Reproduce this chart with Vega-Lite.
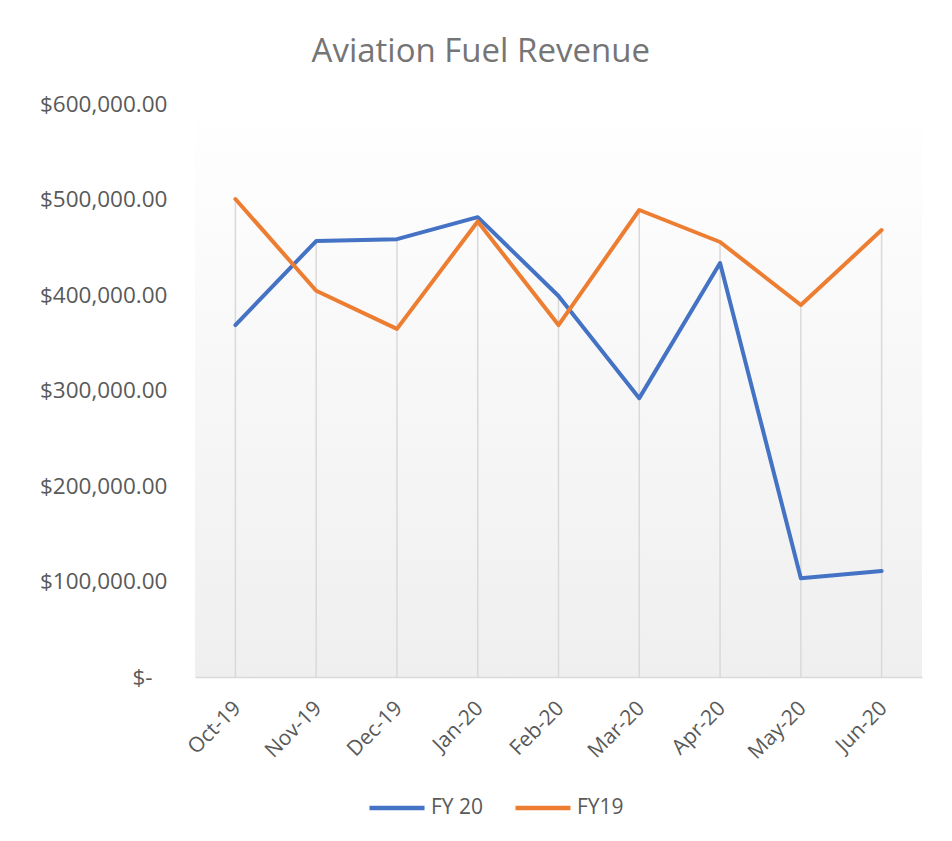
{
  "$schema": "https://vega.github.io/schema/vega-lite/v6.json",
  "width": 727,
  "height": 573,
  "autosize": "none",
  "padding": {"left": 195, "top": 104, "right": 30, "bottom": 164},
  "background": "white",
  "title": {
    "text": "Aviation Fuel Revenue",
    "font": "Open Sans",
    "fontSize": 33,
    "fontWeight": "normal",
    "color": "#757575",
    "anchor": "middle",
    "frame": "bounds",
    "offset": 24
  },
  "data": {
    "values": [
      {"month": "Oct-19", "series": "FY 20", "value": 368500},
      {"month": "Nov-19", "series": "FY 20", "value": 456500},
      {"month": "Dec-19", "series": "FY 20", "value": 458500},
      {"month": "Jan-20", "series": "FY 20", "value": 481500},
      {"month": "Feb-20", "series": "FY 20", "value": 399000},
      {"month": "Mar-20", "series": "FY 20", "value": 292000},
      {"month": "Apr-20", "series": "FY 20", "value": 433500},
      {"month": "May-20", "series": "FY 20", "value": 103500},
      {"month": "Jun-20", "series": "FY 20", "value": 111000},
      {"month": "Oct-19", "series": "FY19", "value": 500500},
      {"month": "Nov-19", "series": "FY19", "value": 404500},
      {"month": "Dec-19", "series": "FY19", "value": 364500},
      {"month": "Jan-20", "series": "FY19", "value": 477000},
      {"month": "Feb-20", "series": "FY19", "value": 368500},
      {"month": "Mar-20", "series": "FY19", "value": 489000},
      {"month": "Apr-20", "series": "FY19", "value": 455500},
      {"month": "May-20", "series": "FY19", "value": 389500},
      {"month": "Jun-20", "series": "FY19", "value": 468000}
    ]
  },
  "layer": [
    {
      "transform": [
        {"aggregate": [{"op": "max", "field": "value", "as": "maxv"}], "groupby": ["month"]}
      ],
      "mark": {"type": "rule", "color": "#d9d9d9", "strokeWidth": 1.5},
      "encoding": {
        "x": {"field": "month", "type": "ordinal", "sort": ["Oct-19","Nov-19","Dec-19","Jan-20","Feb-20","Mar-20","Apr-20","May-20","Jun-20"]},
        "y": {"field": "maxv", "type": "quantitative"},
        "y2": {"datum": 0}
      }
    },
    {
      "mark": {"type": "line", "strokeWidth": 4, "strokeCap": "round", "strokeJoin": "round"},
      "encoding": {
        "x": {
          "field": "month",
          "type": "ordinal",
          "sort": ["Oct-19","Nov-19","Dec-19","Jan-20","Feb-20","Mar-20","Apr-20","May-20","Jun-20"],
          "scale": {"type": "point", "padding": 0.5},
          "axis": {
            "title": null,
            "labelAngle": -45,
            "labelAlign": "right",
            "labelBaseline": "top",
            "labelFont": "Open Sans",
            "labelFontSize": 21,
            "labelColor": "#595959",
            "labelPadding": 20,
            "labelOffset": -6,
            "ticks": false,
            "grid": false,
            "domainColor": "#d9d9d9",
            "domainWidth": 1.5
          }
        },
        "y": {
          "field": "value",
          "type": "quantitative",
          "scale": {"domain": [0, 600000], "nice": false, "zero": true},
          "axis": {
            "title": null,
            "values": [0, 100000, 200000, 300000, 400000, 500000, 600000],
            "labelExpr": "datum.value === 0 ? '$-' : format(datum.value, '$,.2f')",
            "labelFont": "Open Sans",
            "labelFontSize": 22.5,
            "labelColor": "#595959",
            "labelPadding": {"condition": {"test": "datum.value === 0", "value": 43}, "value": 28},
            "domain": false,
            "ticks": false,
            "grid": false
          }
        },
        "color": {
          "field": "series",
          "type": "nominal",
          "scale": {"domain": ["FY 20", "FY19"], "range": ["#4472C4", "#ED7D31"]},
          "legend": {
            "title": null,
            "orient": "none",
            "legendX": 172,
            "legendY": 674,
            "direction": "horizontal",
            "symbolType": "stroke",
            "symbolSize": 3025,
            "symbolStrokeWidth": 4.5,
            "labelFont": "Open Sans",
            "labelFontSize": 21,
            "labelColor": "#595959",
            "labelOffset": 4,
            "columnPadding": 22
          }
        }
      }
    }
  ],
  "config": {
    "view": {
      "stroke": null,
      "fill": {
        "gradient": "linear",
        "x1": 0, "y1": 0, "x2": 0, "y2": 1,
        "stops": [
          {"offset": 0, "color": "#ffffff"},
          {"offset": 0.12, "color": "#fdfdfd"},
          {"offset": 1, "color": "#efefef"}
        ]
      }
    }
  }
}
